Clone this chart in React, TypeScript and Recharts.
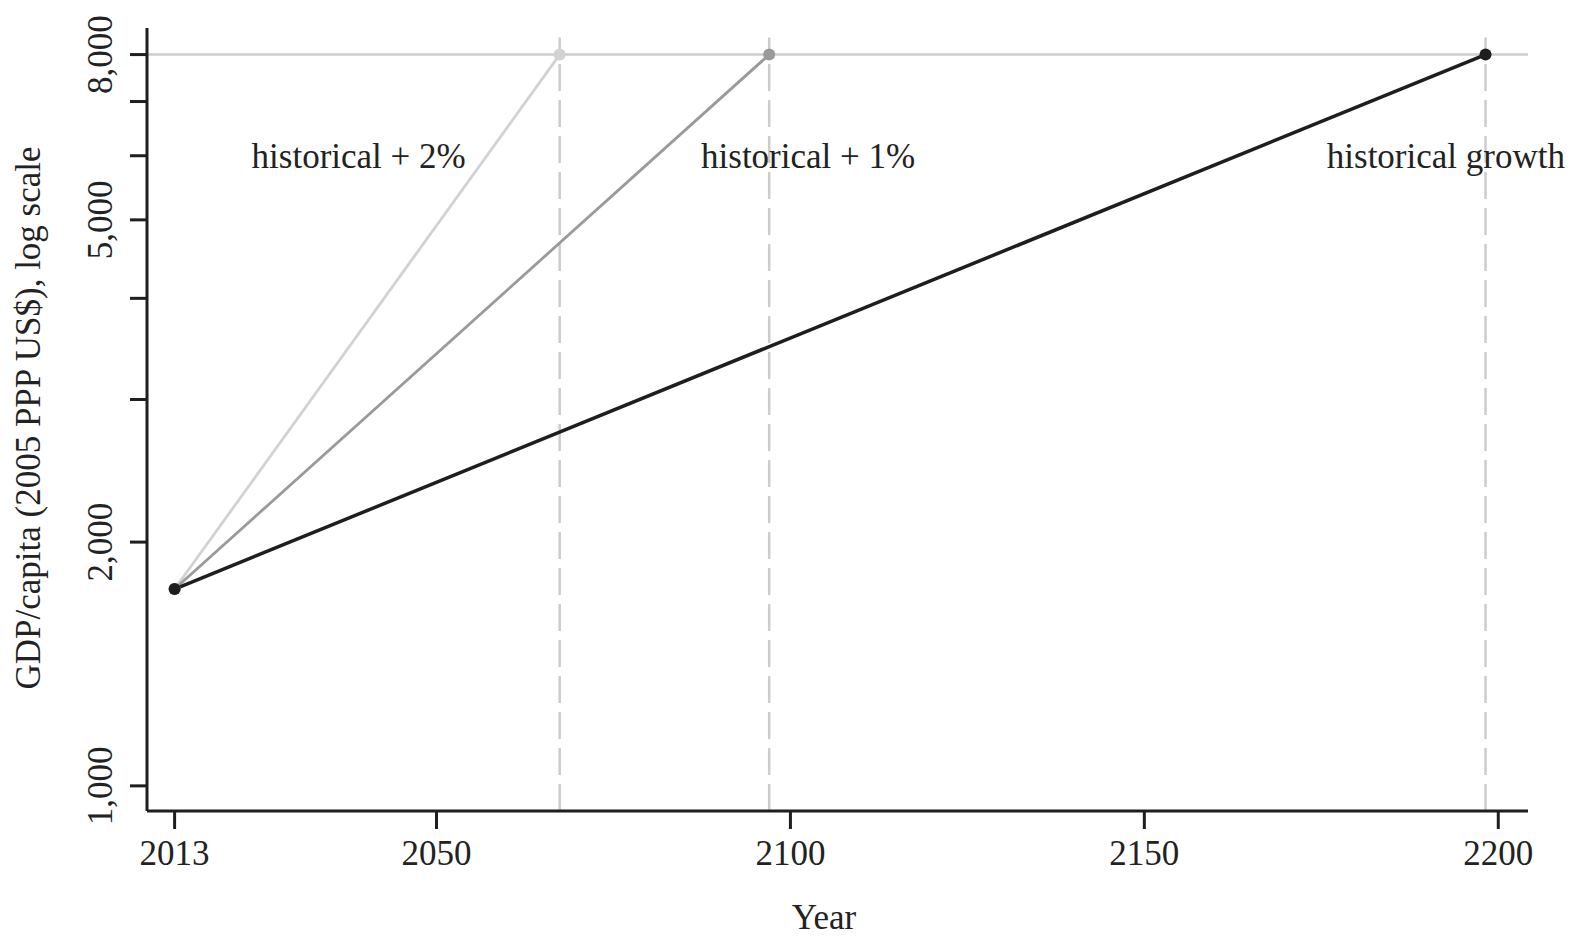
import React from "react";
import {
  ComposedChart,
  Line,
  Scatter,
  XAxis,
  YAxis,
  ReferenceLine,
  Label,
} from "recharts";

// ---- data ----
const seriesNames = ["historical + 2%", "historical + 1%", "historical growth"];
const startYear = 2013;
const startValue = 1750;
const targetValue = 8000;
const endYears = [2067.4, 2097, 2198.2];
const labelYears = [2039, 2102.5, 2192.6];
const labelValue = 6000;
const xTicks = [2013, 2050, 2100, 2150, 2200];
const yTicks = [1000, 2000, 3000, 4000, 5000, 6000, 7000, 8000];
const yTickLabels = [1000, 2000, 5000, 8000];

const seriesColors = ["#d2d2d2", "#9a9a9a", "#1e1e1e"];
const seriesWidths = [2.8, 2.8, 3.5];

const seriesData = endYears.map((end) => [
  { year: startYear, value: startValue },
  { year: end, value: targetValue },
]);
const annotationData = seriesNames.map((name, i) => ({
  year: labelYears[i],
  value: labelValue,
  text: name,
}));

const FONT = "'Liberation Serif', 'Times New Roman', serif";
const FS = 35;
const AXIS = "#1e1e1e";

const XTick = (props: any) => {
  const { x, y, payload } = props;
  return (
    <text x={x} y={y + 34} textAnchor="middle" fontFamily={FONT} fontSize={FS} fill="#222">
      {payload.value}
    </text>
  );
};

const YTick = (props: any) => {
  const { x, y, payload } = props;
  if (!yTickLabels.includes(payload.value)) return null;
  return (
    <text
      transform={`translate(${x - 16}, ${y}) rotate(-90)`}
      textAnchor="middle"
      fontFamily={FONT}
      fontSize={FS}
      fill="#222"
    >
      {payload.value.toLocaleString("en-US")}
    </text>
  );
};

const AnnotationShape = (props: any) => {
  const { cx, cy, payload } = props;
  return (
    <text x={cx} y={cy + 12} textAnchor="middle" fontFamily={FONT} fontSize={FS} fill="#222">
      {payload.text}
    </text>
  );
};

export default function App() {
  return (
    <ComposedChart
      width={1565}
      height={932}
      margin={{ top: 20, right: 45, bottom: 69, left: 79 }}
    >
      <XAxis
        type="number"
        dataKey="year"
        domain={[2009.1, 2204.2]}
        ticks={xTicks}
        height={60}
        tickSize={18}
        tickLine={{ stroke: AXIS, strokeWidth: 3 }}
        axisLine={{ stroke: AXIS, strokeWidth: 3 }}
        tick={<XTick />}
        interval={0}
      >
        <Label
          content={() => (
            <text x={816} y={921} textAnchor="middle" fontFamily={FONT} fontSize={FS} fill="#222">
              Year
            </text>
          )}
        />
      </XAxis>
      <YAxis
        type="number"
        dataKey="value"
        scale="log"
        domain={[931, 8628]}
        ticks={yTicks}
        width={60}
        tickSize={17}
        tickLine={{ stroke: AXIS, strokeWidth: 3 }}
        axisLine={{ stroke: AXIS, strokeWidth: 3 }}
        tick={<YTick />}
        interval={0}
      >
        <Label
          content={() => (
            <text
              transform={`translate(32, 410) rotate(-90)`}
              textAnchor="middle"
              fontFamily={FONT}
              fontSize={FS}
              fill="#222"
            >
              GDP/capita (2005 PPP US$), log scale
            </text>
          )}
        />
      </YAxis>
      <ReferenceLine y={targetValue} stroke="#cccccc" strokeWidth={2.5} />
      {endYears.map((yr, i) => (
        <ReferenceLine
          key={"v" + i}
          segment={[
            { x: yr, y: 931 },
            { x: yr, y: 8400 },
          ]}
          stroke="#cccccc"
          strokeWidth={2.5}
          strokeDasharray="27 9"
        />
      ))}
      {seriesData.map((d, i) => (
        <Line
          key={seriesNames[i]}
          data={d}
          dataKey="value"
          name={seriesNames[i]}
          stroke={seriesColors[i]}
          strokeWidth={seriesWidths[i]}
          dot={{ r: 6, fill: seriesColors[i], stroke: "none" }}
          activeDot={false}
          isAnimationActive={false}
        />
      ))}
      <Scatter
        data={annotationData}
        dataKey="value"
        shape={<AnnotationShape />}
        isAnimationActive={false}
      />
    </ComposedChart>
  );
}
